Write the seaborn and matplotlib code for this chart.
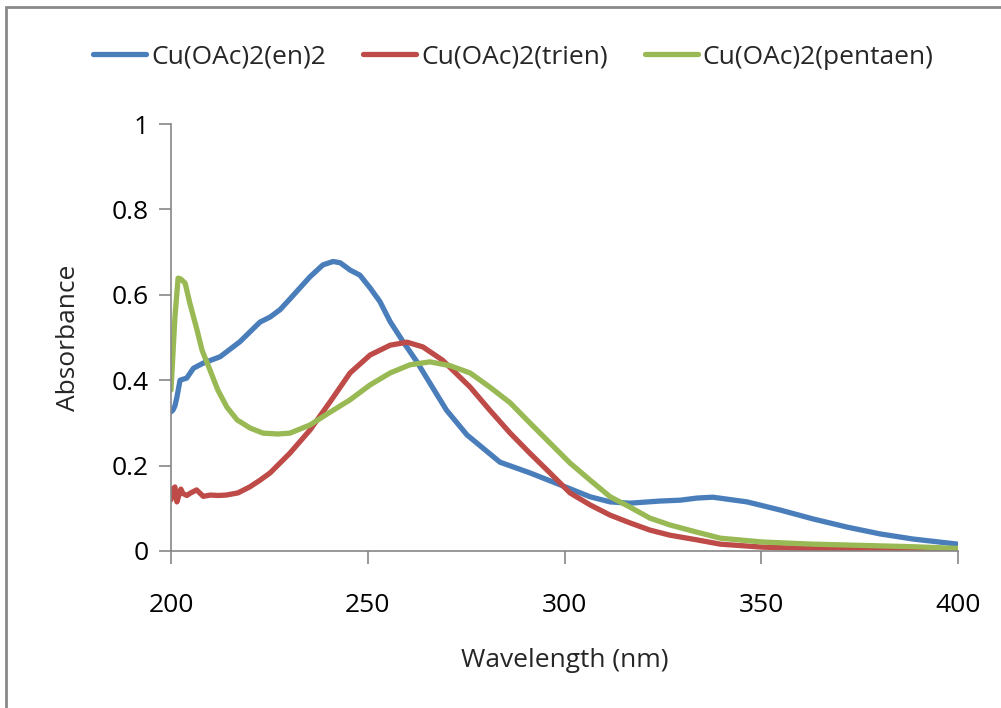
import pandas as pd
import seaborn as sns
import matplotlib.pyplot as plt
from matplotlib.patches import Rectangle

# spectra (nm, absorbance)
wl_en = [200, 200.5, 201, 201.5, 202.3, 204, 205.7, 208.2, 212.5, 217.5, 222.6, 225.2,
         227.7, 230.2, 235.3, 238.6, 241.2, 243, 245.5, 248, 250.6, 253.1, 255.7, 259,
         262.5, 265.8, 270, 275.2, 283.6, 291.2, 298.9, 306.5, 311.6, 316.6, 324.3,
         329.4, 333.7, 337.7, 346.4, 354.8, 363.2, 371.8, 380.2, 388.6, 400]
abs_en = [0.326, 0.33, 0.34, 0.36, 0.40, 0.405, 0.428, 0.44, 0.455, 0.49, 0.536, 0.548,
          0.565, 0.59, 0.642, 0.67, 0.678, 0.675, 0.658, 0.646, 0.616, 0.584, 0.537, 0.49,
          0.443, 0.393, 0.33, 0.272, 0.208, 0.183, 0.155, 0.127, 0.115, 0.112, 0.117,
          0.119, 0.124, 0.126, 0.115, 0.096, 0.075, 0.056, 0.040, 0.028, 0.016]

wl_tr = [200, 200.5, 201, 201.5, 202, 202.5, 203, 204, 205, 206.5, 208.2, 210, 212, 214,
         217, 220, 222.5, 225.2, 227.7, 230.2, 235.3, 240.4, 245.5, 250.6, 255.7, 260, 264,
         269, 272, 276, 281, 286.2, 291.2, 296.3, 301.4, 306.5, 311.6, 316.6, 321.7,
         326.8, 333.7, 339.6, 350.4, 365, 380, 400]
abs_tr = [0.12, 0.145, 0.15, 0.115, 0.13, 0.145, 0.135, 0.13, 0.136, 0.143, 0.128, 0.131,
          0.13, 0.131, 0.136, 0.15, 0.165, 0.183, 0.206, 0.229, 0.283, 0.349, 0.417, 0.459,
          0.482, 0.489, 0.478, 0.447, 0.42, 0.384, 0.330, 0.276, 0.229, 0.183, 0.136, 0.108,
          0.084, 0.066, 0.049, 0.037, 0.026, 0.016, 0.009, 0.005, 0.003, 0.002]

wl_pe = [200, 201, 201.8, 202.5, 203.6, 204.8, 206.6, 207.9, 209.9, 211.9, 214.2, 216.8,
         220.1, 223.4, 227.2, 230.2, 235.3, 240.4, 245.5, 250.6, 255.7, 260.7, 265.8,
         270.9, 276, 281, 286.2, 291.2, 296.3, 301.4, 306.5, 311.6, 316.6, 321.7, 326.8,
         333.7, 339.6, 350.4, 363.2, 376, 388.6, 400]
abs_pe = [0.377, 0.548, 0.639, 0.637, 0.627, 0.58, 0.518, 0.47, 0.424, 0.377, 0.337, 0.307,
          0.288, 0.276, 0.274, 0.276, 0.295, 0.325, 0.354, 0.389, 0.417, 0.436, 0.443,
          0.434, 0.417, 0.384, 0.347, 0.30, 0.253, 0.206, 0.166, 0.127, 0.103, 0.077, 0.061,
          0.044, 0.030, 0.021, 0.016, 0.013, 0.010, 0.006]

names = ['Cu(OAc)2(en)2', 'Cu(OAc)2(trien)', 'Cu(OAc)2(pentaen)']
colors = ['#4A7EBB', '#BE4B48', '#98B954']
x_ticks = [200, 250, 300, 350, 400]
y_ticks = [0, 0.2, 0.4, 0.6, 0.8, 1]
y_labels = ['0', '0.2', '0.4', '0.6', '0.8', '1']

df = pd.concat([
    pd.DataFrame({'wl': wl_en, 'abs': abs_en, 'sample': names[0]}),
    pd.DataFrame({'wl': wl_tr, 'abs': abs_tr, 'sample': names[1]}),
    pd.DataFrame({'wl': wl_pe, 'abs': abs_pe, 'sample': names[2]}),
])

sns.set_style("white")
plt.rcParams['font.family'] = ['Open Sans', 'DejaVu Sans']

fig = plt.figure(figsize=(10.01, 7.08), dpi=100)
ax = fig.add_axes([171/1001, 1-551/708, (958-171)/1001, (551-124)/708])

sns.lineplot(data=df, x='wl', y='abs', hue='sample', palette=colors, linewidth=3.8,
             estimator=None, sort=False, legend=False, ax=ax)

ax.set_xlim(200, 400)
ax.set_ylim(0, 1)
ax.set_xticks(x_ticks)
ax.set_yticks(y_ticks)
ax.set_yticklabels(y_labels)
for s in ['top', 'right']:
    ax.spines[s].set_visible(False)
for s in ['left', 'bottom']:
    ax.spines[s].set_color('#868686')
    ax.spines[s].set_linewidth(1.2)
ax.tick_params(axis='both', direction='out', length=9, width=1.2, color='#868686',
               labelsize=19, labelcolor='black', bottom=True, left=True)
ax.tick_params(axis='x', pad=21)
ax.tick_params(axis='y', pad=7)
ax.set_xlabel('Wavelength (nm)', fontsize=19, labelpad=22)
ax.set_ylabel('Absorbance', fontsize=19, labelpad=22)

handles = ax.get_lines()[:3]
fig.legend(handles, names, loc='center', bbox_to_anchor=(0.513, 1-57/708), ncol=3,
           frameon=False, fontsize=19, handlelength=2.0, handletextpad=0.2,
           columnspacing=1.4)

fig.patches.append(Rectangle((6/1001, -0.1), 1.2, 1-7/708+0.1, transform=fig.transFigure,
                             fill=False, edgecolor='#898989', linewidth=2))

plt.savefig('out.png', dpi=100)
